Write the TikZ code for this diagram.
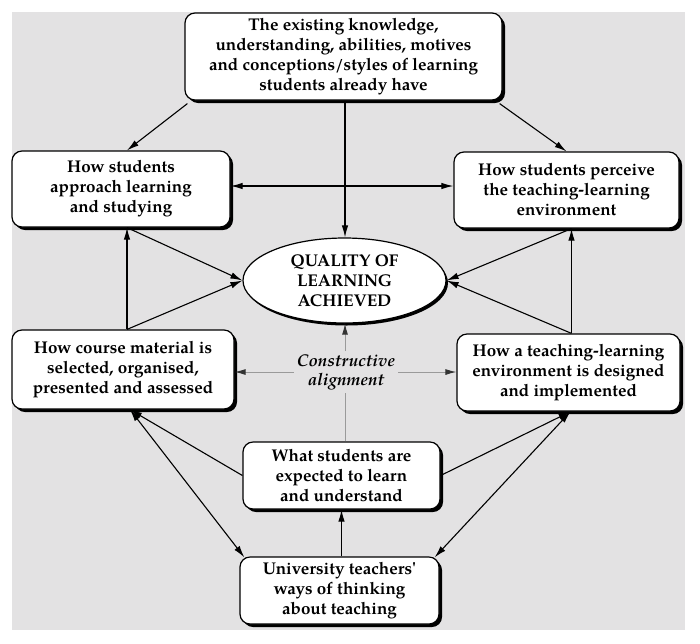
\documentclass[tikz,border=0pt]{standalone}
\usepackage{fontspec}
\setmainfont{TeX Gyre Pagella}
\usetikzlibrary{shapes.geometric,shadows,arrows.meta}
\definecolor{bggray}{HTML}{E3E2E3}
\definecolor{linegray}{HTML}{9A9A9A}
\tikzset{
  boxnode/.style={draw=black, line width=1.2pt, fill=white, rounded corners=10pt,
    align=center, inner sep=0pt, font=\fontsize{17}{20}\selectfont\bfseries,
    drop shadow={shadow xshift=3pt, shadow yshift=-3pt, fill=black, opacity=1}},
  ellnode/.style={draw=black, line width=1.2pt, fill=white, ellipse, inner sep=0pt,
    align=center, font=\fontsize{17}{20}\selectfont\bfseries,
    drop shadow={shadow xshift=2pt, shadow yshift=-2.5pt, fill=black, opacity=1}},
  conn/.style={line width=1.1pt, -{Latex[length=12pt,width=6.5pt]}},
  dconn/.style={line width=1.1pt, {Latex[length=12pt,width=6.5pt]}-{Latex[length=12pt,width=6.5pt]}},
  gconn/.style={draw=linegray, line width=1pt, -{Latex[length=11pt,width=6pt,color=black!80]}},
  gline/.style={draw=linegray, line width=1pt}
}
\begin{document}
\begin{tikzpicture}[x=1pt,y=-1pt]
\useasboundingbox (0,0) rectangle (700,643);
\fill[bggray] (12,12) rectangle (685,630);

\node[boxnode, minimum width=317pt, minimum height=87pt] (top) at (343.5,56.5)
  {The existing knowledge,\\understanding, abilities, motives\\and conceptions/styles of learning\\students already have};
\node[boxnode, minimum width=218pt, minimum height=76pt] (L1) at (121,189)
  {How students\\approach learning\\and studying};
\node[boxnode, minimum width=225pt, minimum height=76pt] (R1) at (566.5,190)
  {How students perceive\\the teaching-learning\\environment};
\node[ellnode, minimum width=203pt, minimum height=85pt] (E) at (344.5,280.5)
  {QUALITY OF\\LEARNING\\ACHIEVED};
\node[boxnode, minimum width=222pt, minimum height=79pt] (L2) at (123,369.5)
  {How course material is\\selected, organised,\\presented and assessed};
\node[boxnode, minimum width=223pt, minimum height=77pt] (R2) at (568.5,372.5)
  {How a teaching-learning\\environment is designed\\and implemented};
\node[boxnode, minimum width=197pt, minimum height=67pt] (W) at (341.5,475.5)
  {What students are\\expected to learn\\and understand};
\node[boxnode, minimum width=199pt, minimum height=67pt] (U) at (339.5,590.5)
  {University teachers\textquotesingle\\ways of thinking\\about teaching};
\node[align=center, inner sep=3pt, font=\fontsize{17}{19}\selectfont\bfseries\itshape] (CA) at (346,372)
  {Constructive\\alignment};

% top box
\draw[conn] ([xshift=3pt,yshift=-3pt]top.south west) -- ([xshift=6pt]L1.north);
\draw[conn] ([xshift=-3pt,yshift=-3pt]top.south east) -- ([xshift=0pt]R1.north);
\draw[conn] ([xshift=1.5pt]top.south) -- ([xshift=1.5pt]top.south |- E.north);
% L1 <-> R1
\draw[dconn] ([yshift=3pt]L1.east) -- ([yshift=3pt]L1.east -| R1.west);
% left side
\draw[conn] ([xshift=6pt]L1.south) -- (E.west);
\draw[conn] ([xshift=4pt]L2.north) -- ([xshift=4pt]L2.north |- L1.south);
\draw[conn] ([xshift=4pt]L2.north) -- (E.west);
% right side
\draw[conn] ([xshift=5pt]R1.south) -- (E.east);
\draw[conn] ([xshift=3pt]R2.north) -- ([xshift=3pt]R2.north |- R1.south);
\draw[conn] ([xshift=3pt]R2.north) -- (E.east);
% bottom
\draw[conn] (W.west) -- ([xshift=7pt]L2.south);
\draw[dconn] ([xshift=5pt,yshift=-1pt]U.north west) -- ([xshift=7pt]L2.south);
\draw[conn] (W.east) -- ([xshift=2pt]R2.south);
\draw[dconn] ([xshift=-5pt,yshift=-1pt]U.north east) -- ([xshift=2pt]R2.south);
\draw[conn] ([xshift=2pt]U.north) -- ([xshift=2pt]U.north |- W.south);
% constructive alignment
\draw[gline] ([xshift=4pt]W.north) -- ([xshift=4pt]W.north |- CA.south);
\draw[gconn] ([xshift=-1pt]CA.north) -- ([xshift=-1pt]CA.north |- E.south);
\draw[gconn] (CA.west) -- (CA.west -| L2.east);
\draw[gconn] (CA.east) -- (CA.east -| R2.west);
\end{tikzpicture}
\end{document}
